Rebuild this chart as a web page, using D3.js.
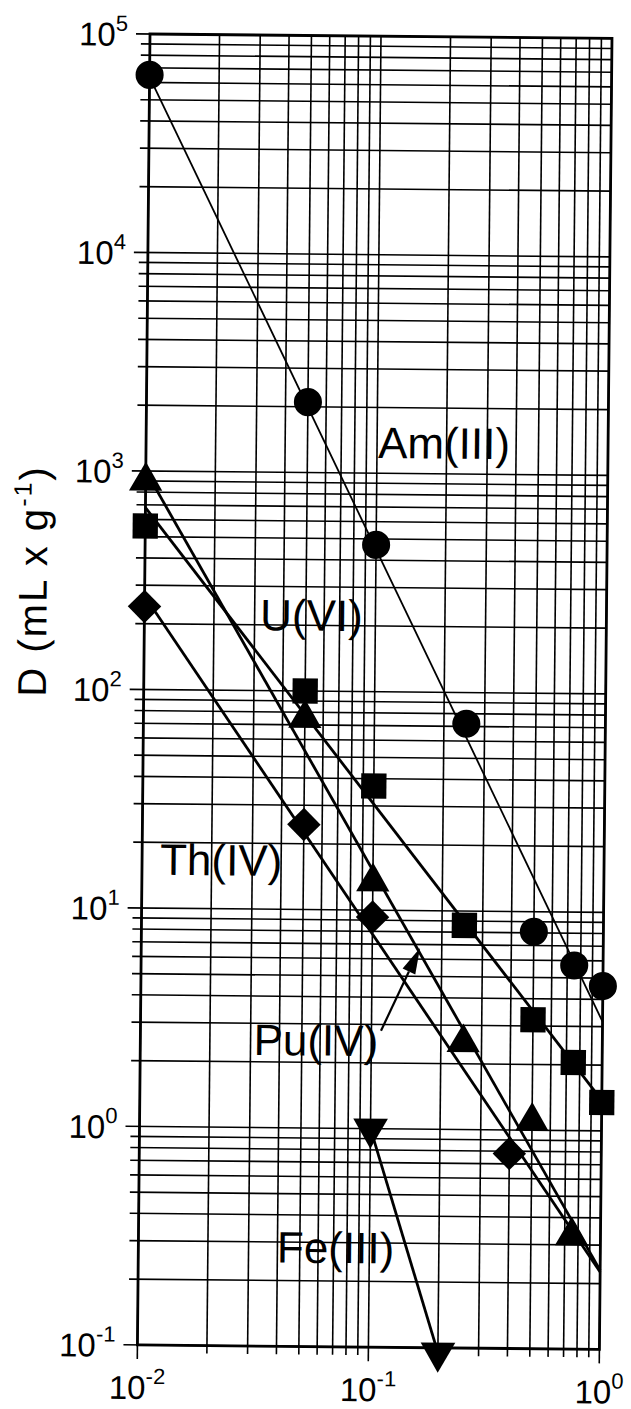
<!DOCTYPE html>
<meta charset="utf-8">
<head>
    <title>Distribution ratio D vs acid concentration</title>
    <script type="text/javascript" src="https://cdn.jsdelivr.net/npm/d3@7"></script>
    <style>
        body { margin: 0; background: #fff; }
        svg text { font-family: "Liberation Sans", Arial, sans-serif; fill: #000; }
    </style>
</head>
<body>
<div id="chart"></div>
<script>

    // tick labels (powers of ten)
    var xTickVals = [0.01, 0.1, 1];
    var xTickExp = ["-2", "-1", "0"];
    var yTickVals = [1e-1, 1e0, 1e1, 1e2, 1e3, 1e4, 1e5];
    var yTickExp = ["-1", "0", "1", "2", "3", "4", "5"];

    // measured points
    var amX = [0.01, 0.05, 0.1, 0.25, 0.5, 0.75, 1.0];
    var amY = [65000, 2100, 470, 72, 8.1, 5.7, 4.6];
    var uX = [0.01, 0.05, 0.1, 0.25, 0.5, 0.75, 1.0];
    var uY = [560, 100, 37, 8.6, 3.2, 2.05, 1.35];
    var puX = [0.01, 0.05, 0.1, 0.25, 0.5, 0.75];
    var puY = [900, 75, 13.5, 2.5, 1.1, 0.33];
    var thX = [0.01, 0.05, 0.1, 0.4];
    var thY = [240, 24.5, 9.3, 0.78];
    var feX = [0.1, 0.2];
    var feY = [1.0, 0.095];

    // fitted lines, [start, end]
    var amFitX = [0.01, 1.0], amFitY = [63500, 3.16];
    var uFitX = [0.01, 1.0], uFitY = [680, 1.38];
    var puFitX = [0.01, 1.0], puFitY = [1000, 0.23];
    var thFitX = [0.01, 1.0], thFitY = [268, 0.226];
    var feFitX = [0.1, 0.2], feFitY = [1.0, 0.095];

    // series labels and where they sit
    var labelText = ["Am(III)", "U(VI)", "Th(IV)", "Pu(IV)", "Fe(III)"];
    var labelX = [0.101, 0.0317, 0.01197, 0.0309, 0.0398];
    var labelY = [1175, 189, 14.2, 2.15, 0.242];

    // Pu(IV) arrow, from label to line
    var arrowX = [0.11, 0.161];
    var arrowY = [2.81, 6.75];

    var margin = {top: 34, left: 150}, width = 462, height = 1311;
    var tilt = 0.55; // the scanned figure is slightly rotated

    var svg = d3.select('#chart').append('svg')
        .attr('width', 631)
        .attr('height', 1409);

    var g = svg.append('g')
        .attr('transform', 'translate(' + margin.left + ',' + margin.top + ') rotate(' + tilt + ')');

    var x = d3.scaleLog().domain([0.01, 1]).range([0, width]);
    var y = d3.scaleLog().domain([0.1, 1e5]).range([height, 0]);

    function isMajor(v) {
        var l = Math.log10(v);
        return Math.abs(l - Math.round(l)) < 1e-6;
    }

    // grid
    var grid = g.append('g').attr('stroke', '#000').attr('stroke-width', 1.6);
    grid.selectAll('.vx').data(x.ticks()).enter().append('line')
        .attr('x1', d => x(d)).attr('x2', d => x(d))
        .attr('y1', 0).attr('y2', d => height + (isMajor(d) ? 14 : 8));
    grid.selectAll('.hy').data(y.ticks()).enter().append('line')
        .attr('y1', d => y(d)).attr('y2', d => y(d))
        .attr('x1', d => isMajor(d) ? -14 : -9).attr('x2', width);

    // frame
    g.append('rect')
        .attr('width', width).attr('height', height)
        .attr('fill', 'none').attr('stroke', '#000').attr('stroke-width', 2.8);

    // tick labels
    var yl = g.selectAll('.ylab').data(yTickVals).enter().append('text')
        .attr('x', -22).attr('y', d => y(d) + 12)
        .attr('text-anchor', 'end').style('font-size', '33px');
    yl.append('tspan').text('10');
    yl.append('tspan').attr('dy', -15).style('font-size', '22px').text((d, i) => yTickExp[i]);

    var xl = g.selectAll('.xlab').data(xTickVals).enter().append('text')
        .attr('x', d => x(d)).attr('y', height + 54)
        .attr('text-anchor', 'middle').style('font-size', '33px');
    xl.append('tspan').text('10');
    xl.append('tspan').attr('dy', -15).style('font-size', '22px').text((d, i) => xTickExp[i]);

    // y axis title
    var yt = g.append('text')
        .attr('transform', 'translate(-98,548) rotate(-90)')
        .attr('text-anchor', 'middle')
        .style('font-size', '40px')
        .style('letter-spacing', '2px');
    yt.append('tspan').text('D (mL x g');
    yt.append('tspan').attr('dy', -16).style('font-size', '25px').text('-1');
    yt.append('tspan').attr('dy', 16).text(')');

    // fitted lines
    function fitLine(fx, fy, w) {
        g.append('line')
            .attr('x1', x(fx[0])).attr('y1', y(fy[0]))
            .attr('x2', x(fx[1])).attr('y2', y(fy[1]))
            .attr('stroke', '#000').attr('stroke-width', w);
    }
    fitLine(amFitX, amFitY, 1.8);
    fitLine(uFitX, uFitY, 2.8);
    fitLine(puFitX, puFitY, 2.8);
    fitLine(thFitX, thFitY, 2.8);
    fitLine(feFitX, feFitY, 2.8);

    // markers
    function markers(xs, ys, type, size, rot) {
        g.append('g').selectAll('path').data(xs).enter().append('path')
            .attr('d', d3.symbol().type(type).size(size))
            .attr('transform', (d, i) => 'translate(' + x(d) + ',' + y(ys[i]) + ') rotate(' + rot + ')')
            .attr('fill', '#000');
    }
    markers(amX, amY, d3.symbolCircle, 620, 0);
    markers(uX, uY, d3.symbolSquare, 640, 0);
    markers(puX, puY, d3.symbolTriangle, 480, 0);
    markers(thX, thY, d3.symbolSquare, 560, 45);
    markers(feX, feY, d3.symbolTriangle, 520, 180);

    // series labels
    g.selectAll('.slab').data(labelText).enter().append('text')
        .attr('x', (d, i) => x(labelX[i]))
        .attr('y', (d, i) => y(labelY[i]))
        .style('font-size', '44px')
        .text(d => d);

    // arrow
    var ax0 = x(arrowX[0]), ay0 = y(arrowY[0]), ax1 = x(arrowX[1]), ay1 = y(arrowY[1]);
    var ang = Math.atan2(ay1 - ay0, ax1 - ax0), hl = 26, hw = 7;
    var bx = ax1 - hl * Math.cos(ang), by = ay1 - hl * Math.sin(ang);
    g.append('line')
        .attr('x1', ax0).attr('y1', ay0).attr('x2', bx).attr('y2', by)
        .attr('stroke', '#000').attr('stroke-width', 2.2);
    g.append('path')
        .attr('d', 'M' + ax1 + ',' + ay1 +
            'L' + (bx - hw * Math.sin(ang)) + ',' + (by + hw * Math.cos(ang)) +
            'L' + (bx + hw * Math.sin(ang)) + ',' + (by - hw * Math.cos(ang)) + 'Z')
        .attr('fill', '#000');

</script>
</body>
</html>
